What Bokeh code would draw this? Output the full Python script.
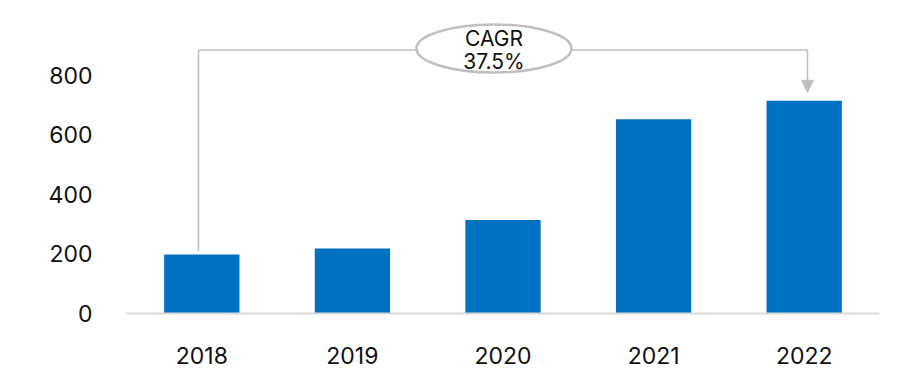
from bokeh.plotting import figure
from bokeh.models import Range1d, FixedTicker, Arrow, NormalHead, ColumnDataSource
from bokeh.core.properties import value
from bokeh.embed import file_html
from bokeh.resources import INLINE

years = ["2018", "2019", "2020", "2021", "2022"]
values = [198, 218, 314, 652, 714]
y_ticks = [0, 200, 400, 600, 800]
cagr_title = "CAGR"
cagr_label = "37.5%"

FONT = "Inter"
BAR = "#0070C0"
GREY = "#BFBFBF"

xs = list(range(len(years)))
p = figure(width=881, height=376, output_backend="svg", toolbar_location=None,
           x_range=Range1d(-0.5, len(years) - 0.5), y_range=Range1d(0, 1050),
           min_border_left=126, min_border_right=2, min_border_top=0, min_border_bottom=63)
p.outline_line_color = None
p.grid.visible = False
p.background_fill_color = "white"
p.border_fill_color = "white"

src = ColumnDataSource(dict(x=xs, top=values))
p.vbar(x="x", top="top", bottom=0, width=0.5, source=src, fill_color=BAR, line_color=None)

# axes
p.xaxis.ticker = FixedTicker(ticks=xs)
p.xaxis.major_label_overrides = {i: y for i, y in enumerate(years)}
p.xaxis.axis_line_color = "#D9D9D9"
p.xaxis.axis_line_width = 2
p.xaxis.major_tick_line_color = None
p.xaxis.minor_tick_line_color = None
p.xaxis.major_label_text_font = FONT
p.xaxis.major_label_text_font_size = "23px"
p.xaxis.major_label_text_color = "#111111"
p.xaxis.major_label_standoff = 27

p.yaxis.ticker = FixedTicker(ticks=y_ticks)
p.yaxis.axis_line_color = None
p.yaxis.major_tick_line_color = None
p.yaxis.minor_tick_line_color = None
p.yaxis.major_label_text_font = FONT
p.yaxis.major_label_text_font_size = "23px"
p.yaxis.major_label_text_color = "#111111"
p.yaxis.major_label_standoff = 28

# CAGR connector
level = 884
x0 = xs[0] - 0.022
x1 = xs[-1] + 0.022
p.line([x0, x0, x1, x1], [values[0] + 11, level, level, level - 30], line_color=GREY, line_width=1.5)
p.add_layout(Arrow(end=NormalHead(size=12, fill_color=GREY, line_color=GREY, line_width=1),
                   x_start=x1, y_start=level - 30, x_end=x1, y_end=values[-1] + 28,
                   line_color=GREY, line_width=1.5))

ex = 1.94
p.ellipse(x=[ex], y=[level + 5], width=155, height=48, width_units="screen", height_units="screen",
          fill_color="white", line_color=GREY, line_width=2.5)
p.text(x=[ex, ex], y=[924, 844], text=[cagr_title, cagr_label], text_align="center",
       text_baseline="middle", text_font=value(FONT), text_font_size="21px", text_color="#111111")

open("out.html", "w").write(file_html(p, INLINE))
